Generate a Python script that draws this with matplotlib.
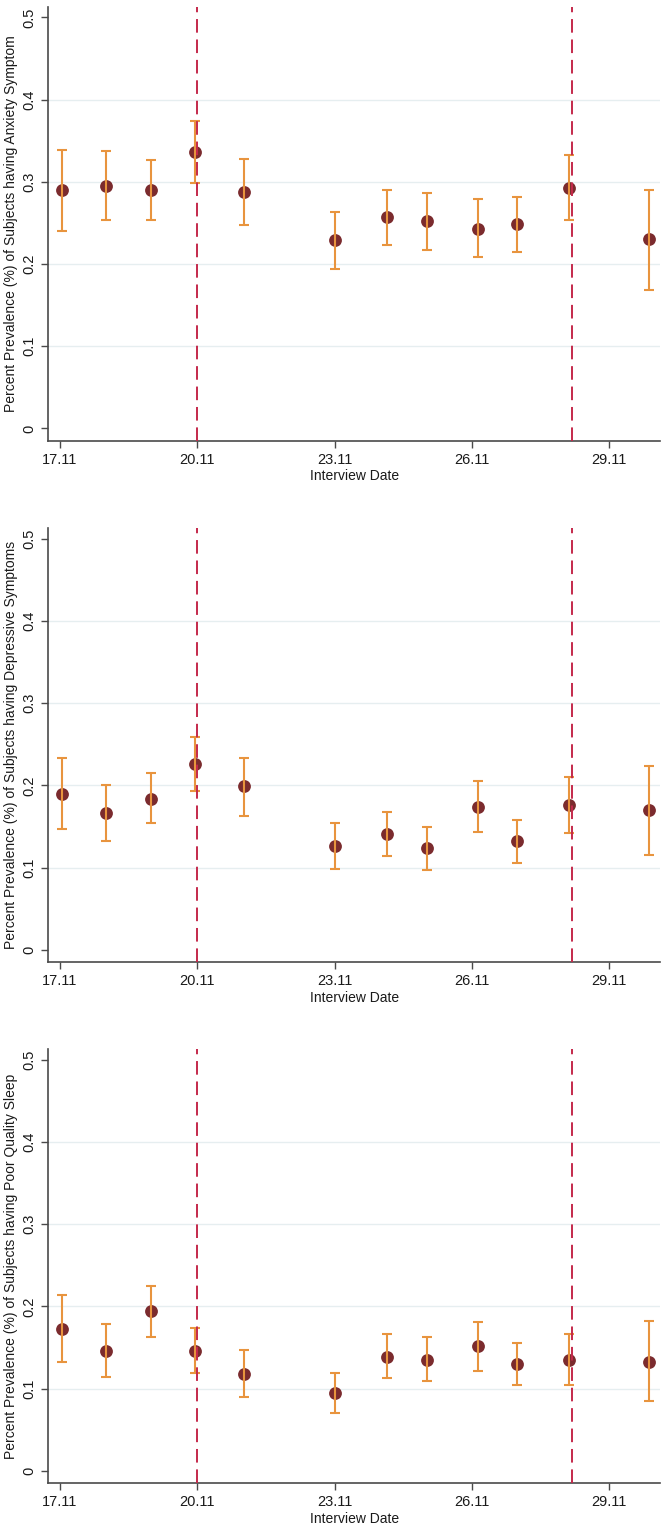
import matplotlib
matplotlib.use("Agg")
import matplotlib.pyplot as plt

plt.rcParams['font.family'] = ['Liberation Sans', 'DejaVu Sans']

# interview day (day of November), as placed on the axis
days = [17.05, 18.01, 18.98, 19.96, 21.01, 23.0, 24.15, 25.01, 26.14, 26.99, 28.13, 29.86]

anxiety = [0.290, 0.295, 0.290, 0.336, 0.288, 0.229, 0.257, 0.252, 0.243, 0.249, 0.293, 0.230]
anxiety_lo = [0.240, 0.253, 0.253, 0.299, 0.247, 0.194, 0.223, 0.217, 0.208, 0.215, 0.253, 0.169]
anxiety_hi = [0.339, 0.337, 0.326, 0.374, 0.328, 0.263, 0.290, 0.287, 0.279, 0.282, 0.333, 0.290]

depress = [0.190, 0.167, 0.184, 0.226, 0.199, 0.126, 0.141, 0.124, 0.174, 0.132, 0.176, 0.170]
depress_lo = [0.147, 0.133, 0.154, 0.193, 0.163, 0.099, 0.114, 0.097, 0.143, 0.106, 0.142, 0.116]
depress_hi = [0.233, 0.201, 0.215, 0.259, 0.234, 0.154, 0.168, 0.150, 0.205, 0.158, 0.210, 0.224]

sleep = [0.173, 0.146, 0.194, 0.146, 0.118, 0.095, 0.139, 0.135, 0.152, 0.130, 0.135, 0.133]
sleep_lo = [0.132, 0.114, 0.163, 0.119, 0.090, 0.071, 0.113, 0.109, 0.122, 0.104, 0.105, 0.085]
sleep_hi = [0.214, 0.179, 0.225, 0.174, 0.147, 0.119, 0.166, 0.163, 0.181, 0.156, 0.166, 0.182]

event_days = [20.0, 28.18]
xtick_pos = [17, 20, 23, 26, 29]
xtick_labels = ['17.11', '20.11', '23.11', '26.11', '29.11']
yticks = [0, 0.1, 0.2, 0.3, 0.4, 0.5]

panels = [
    (anxiety, anxiety_lo, anxiety_hi, 'Percent Prevalence (%) of Subjects having Anxiety Symptom'),
    (depress, depress_lo, depress_hi, 'Percent Prevalence (%) of Subjects having Depressive Symptoms'),
    (sleep, sleep_lo, sleep_hi, 'Percent Prevalence (%) of Subjects having Poor Quality Sleep'),
]

fig = plt.figure(figsize=(6.66, 15.31), dpi=100)
bottoms = [0.7121, 0.3715, 0.0312]
left, width, height = 0.0725, 0.9185, 0.2835

for (vals, lo, hi, ylab), b in zip(panels, bottoms):
    ax = fig.add_axes([left, b, width, height])
    err = [[v - l for v, l in zip(vals, lo)], [h - v for v, h in zip(vals, hi)]]
    ax.scatter(days, vals, s=85, color='#7b2b2e', zorder=3, linewidths=0)
    ax.errorbar(days, vals, yerr=err, fmt='none', ecolor='#e8943e',
                elinewidth=1.5, capsize=3.8, capthick=1.5, zorder=4)
    for d in event_days:
        ax.axvline(d, color='#c4294b', lw=1.4, ls=(0, (7, 3.5)), zorder=5)

    ax.set_xlim(16.744, 30.11)
    ax.set_ylim(-0.015, 0.513)
    ax.set_yticks(yticks)
    ax.set_yticklabels(['0', '0.1', '0.2', '0.3', '0.4', '0.5'], rotation=90, va='center')
    ax.set_xticks(xtick_pos)
    ax.set_xticklabels(xtick_labels)
    for g in yticks[1:-1]:
        ax.axhline(g, color='#e6eef0', lw=1.0, zorder=0)

    for s in ['top', 'right']:
        ax.spines[s].set_visible(False)
    for s in ['left', 'bottom']:
        ax.spines[s].set_color('#4a4a4a')
        ax.spines[s].set_linewidth(1.2)
    ax.tick_params(colors='#4a4a4a', labelcolor='#1a1a1a', labelsize=10.5,
                   length=5, width=1.0, direction='out')
    ax.set_xlabel('Interview Date', fontsize=10, color='#1a1a1a', labelpad=2)
    ax.set_ylabel(ylab, fontsize=10, color='#1a1a1a', labelpad=3)

plt.savefig('out.png', dpi=100)
